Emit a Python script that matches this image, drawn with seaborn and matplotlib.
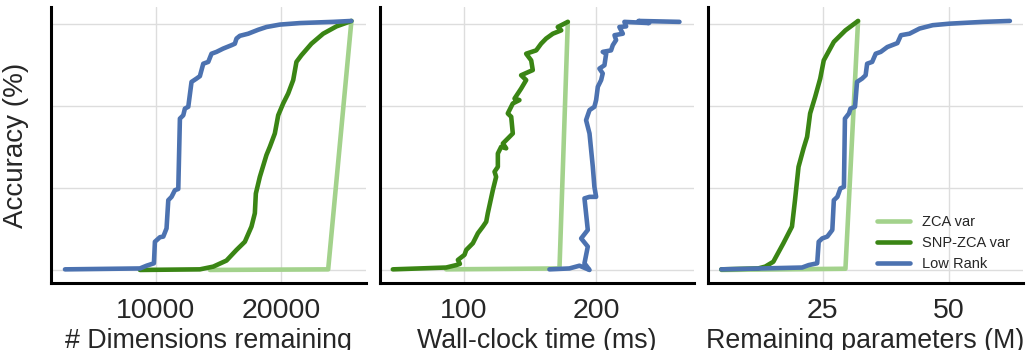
import numpy as np
import pandas as pd
import matplotlib
matplotlib.use('Agg')
import matplotlib.pyplot as plt
import seaborn as sns

# ---- data ----
# panel 1: # dimensions remaining
dims_zca_x = [14320, 23790, 25650]
dims_zca_y = [10.0, 10.2, 92.1]
dims_snp_x = [8720, 13520, 14590, 15650, 16450, 17120, 17650, 17920, 18000, 18320,
              18850, 19120, 19520, 19790, 20190, 20590, 20990, 21250, 21650, 22450,
              23390, 24450, 25650]
dims_snp_y = [10.0, 10.2, 11.1, 13.1, 16.6, 19.3, 24.3, 28.7, 35.2, 40.7,
              47.9, 50.6, 55.0, 61.0, 64.9, 68.2, 72.6, 78.6, 80.8, 84.6,
              87.9, 90.3, 92.1]
dims_lr_x = [2720, 8720, 9250, 9840, 9920, 10320, 10590, 10850, 10990, 11250,
             11520, 11790, 11920, 12190, 12320, 12590, 12850, 13250, 13520, 13790,
             14190, 14450, 14850, 15390, 16050, 16320, 16450, 16720, 17390, 18190,
             18850, 19920, 21520, 24190, 25650]
dims_lr_y = [10.2, 10.5, 11.4, 12.2, 19.3, 20.8, 21.0, 23.7, 33.0, 34.1,
             36.3, 36.7, 59.9, 61.0, 63.2, 63.8, 72.0, 73.1, 73.9, 78.0,
             78.6, 81.3, 81.9, 83.0, 84.1, 84.6, 86.3, 87.2, 87.9, 89.2,
             90.1, 90.9, 91.4, 91.8, 92.1]

# panel 2: wall-clock time (ms)
time_zca_x = [86.6, 172.3, 178.6]
time_zca_y = [10.2, 10.5, 91.8]
time_snp_x = [46.3, 86.6, 94.2, 97.0, 95.5, 100.5, 101.8, 106.8, 110.6, 114.4,
              116.9, 118.1, 121.9, 124.4, 123.2, 125.7, 125.7, 128.2, 132.0, 129.5,
              137.0, 135.8, 133.2, 137.0, 142.0, 138.3, 143.3, 147.1, 143.3, 152.1,
              150.9, 147.1, 154.7, 158.4, 162.2, 167.3, 173.6, 171.0, 178.6]
time_snp_y = [10.2, 10.8, 11.6, 12.0, 13.3, 15.0, 16.6, 18.8, 22.1, 24.3,
              25.9, 28.7, 36.3, 40.7, 42.4, 44.0, 48.4, 50.6, 50.1, 51.7,
              55.0, 60.5, 61.6, 64.9, 66.0, 66.5, 69.8, 72.6, 74.2, 75.9,
              79.1, 81.3, 82.4, 84.6, 86.3, 87.9, 89.0, 90.1, 91.8]
time_lr_x = [164.7, 179.8, 187.4, 195.0, 191.2, 193.7, 188.7, 193.7, 191.2, 195.0,
             200.0, 198.7, 197.5, 195.0, 192.4, 195.0, 198.7, 200.0, 201.3, 203.8,
             205.0, 202.5, 206.3, 207.6, 205.0, 211.3, 212.6, 215.1, 213.9, 220.2,
             217.6, 222.7, 221.4, 240.0, 232.0, 263.0]
time_lr_y = [10.2, 10.5, 11.4, 10.0, 12.2, 17.7, 20.4, 23.2, 33.6, 34.1,
             34.1, 37.4, 44.0, 55.0, 59.4, 62.7, 63.8, 66.0, 70.4, 72.6,
             74.8, 76.4, 77.5, 81.3, 81.9, 82.4, 84.1, 85.8, 87.4, 87.9,
             90.1, 90.3, 91.8, 91.4, 92.1, 91.8]

# panel 3: remaining parameters (M)
params_zca_x = [4.9, 29.5, 32.0]
params_zca_y = [10.0, 10.4, 92.1]
params_snp_x = [4.9, 12.2, 13.6, 15.2, 17.2, 18.9, 19.5, 20.2, 21.2, 21.9,
                22.5, 23.5, 24.5, 25.2, 27.2, 29.5, 32.0]
params_snp_y = [10.2, 10.5, 11.1, 12.7, 18.8, 24.3, 33.0, 44.0, 50.1, 53.9,
                61.6, 67.1, 73.1, 79.1, 85.2, 89.0, 92.1]
params_lr_x = [4.9, 20.9, 22.2, 23.9, 24.2, 24.9, 25.9, 26.9, 27.2, 27.9,
               28.5, 29.2, 29.4, 30.2, 30.5, 31.4, 31.8, 32.8, 33.5, 33.8,
               34.8, 35.5, 36.5, 37.8, 39.8, 40.5, 42.2, 44.2, 46.8, 50.1,
               56.8, 62.1]
params_lr_y = [10.2, 10.8, 11.6, 12.2, 19.3, 20.4, 21.0, 23.2, 33.0, 34.1,
               36.9, 37.4, 59.9, 61.6, 63.2, 63.8, 72.0, 73.1, 74.2, 78.0,
               78.6, 81.3, 81.9, 83.5, 84.8, 87.4, 87.9, 89.6, 90.7, 91.2,
               91.8, 92.1]

labels = ['ZCA var', 'SNP-ZCA var', 'Low Rank']
colors = ['#a3d28c', '#3a8514', '#4c72b0']
xlabels = ['# Dimensions remaining', 'Wall-clock time (ms)', 'Remaining parameters (M)']
xticks = [[10000, 20000], [100, 200], [25, 50]]
xlims = [(1600, 26800), (36.3, 274.3), (2.3, 64.7)]

panels = [
    [(dims_zca_x, dims_zca_y), (dims_snp_x, dims_snp_y), (dims_lr_x, dims_lr_y)],
    [(time_zca_x, time_zca_y), (time_snp_x, time_snp_y), (time_lr_x, time_lr_y)],
    [(params_zca_x, params_zca_y), (params_snp_x, params_snp_y), (params_lr_x, params_lr_y)],
]

sns.set_theme(style='whitegrid')
plt.rcParams['font.family'] = ['Liberation Sans', 'DejaVu Sans']

fig, axes = plt.subplots(1, 3, figsize=(10.3, 3.5), dpi=100, sharey=True)
fig.subplots_adjust(left=51/1030, right=1023/1030, bottom=1-283/350, top=1-7/350, wspace=0.044)

for i, ax in enumerate(axes):
    for (xs, ys), lab, col in zip(panels[i], labels, colors):
        sns.lineplot(x=xs, y=ys, ax=ax, sort=False, estimator=None, color=col,
                     linewidth=3.3, label=lab, legend=False)
    ax.set_xlim(*xlims[i])
    ax.set_ylim(5.7, 96.7)
    ax.set_xticks(xticks[i])
    ax.set_yticks([10, 37, 64, 91])
    ax.set_yticklabels([])
    ax.tick_params(axis='x', labelsize=20.5, length=0, pad=10.5)
    ax.tick_params(axis='y', length=0)
    ax.set_xlabel(xlabels[i], fontsize=19.3, labelpad=3.5)
    ax.grid(True, color='#dddddd', linewidth=1)
    for side in ['top', 'right']:
        ax.spines[side].set_visible(False)
    for side in ['left', 'bottom']:
        ax.spines[side].set_visible(True)
        ax.spines[side].set_color('black')
        ax.spines[side].set_linewidth(2.2)

axes[0].set_ylabel('Accuracy (%)', fontsize=20, labelpad=12)
axes[2].legend(loc='lower right', frameon=False, fontsize=10.5, handlelength=2.3,
               bbox_to_anchor=(1.0, -0.005))

plt.savefig('out.png', dpi=100)
